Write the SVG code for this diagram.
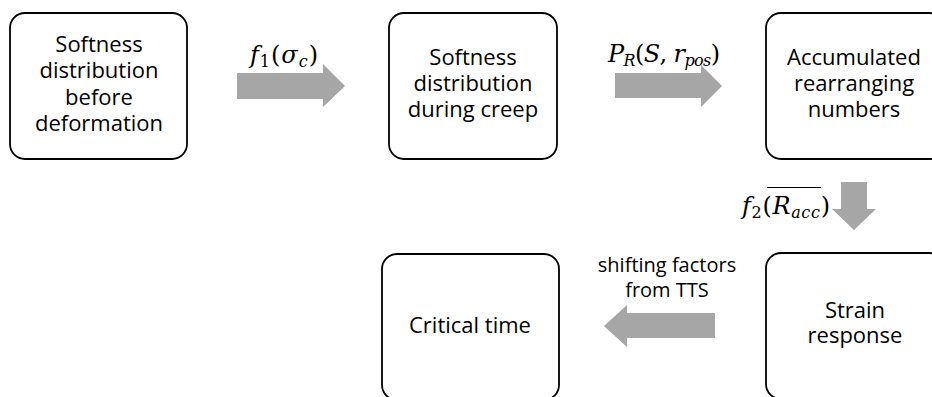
<svg xmlns="http://www.w3.org/2000/svg" width="932" height="397" viewBox="0 0 932 397">
<style>
.box{fill:#fff;stroke:#000;stroke-width:1.8}
.t{font-family:"Open Sans","Liberation Sans",sans-serif;font-size:22px;fill:#000;text-anchor:middle}
.lbl{font-family:"Open Sans","Liberation Sans",sans-serif;font-size:20px;fill:#000;text-anchor:middle}
.m{font-family:"DejaVu Serif","Liberation Serif",serif;font-size:24px;fill:#000}
.i{font-style:italic}
.s{font-size:16px}
.arr{fill:#a6a6a6}
</style>
<rect width="932" height="397" fill="#fff"/>
<g id="n1">
<rect class="box" x="10" y="13" width="177" height="146" rx="15"/>
<text class="t" x="99" y="52">Softness</text>
<text class="t" x="99" y="78">distribution</text>
<text class="t" x="99" y="105">before</text>
<text class="t" x="99" y="131">deformation</text>
</g>
<g id="n2">
<rect class="box" x="389" y="13" width="168" height="146" rx="15"/>
<text class="t" x="473" y="65">Softness</text>
<text class="t" x="473" y="91">distribution</text>
<text class="t" x="473" y="117">during creep</text>
</g>
<g id="n3">
<rect class="box" x="766" y="13" width="178" height="146" rx="15"/>
<text class="t" x="854" y="65">Accumulated</text>
<text class="t" x="854" y="91">rearranging</text>
<text class="t" x="854" y="117">numbers</text>
</g>
<g id="n4">
<rect class="box" x="766" y="253" width="178" height="146" rx="15"/>
<text class="t" x="855" y="318">Strain</text>
<text class="t" x="855" y="343">response</text>
</g>
<g id="n5">
<rect class="box" x="382" y="254" width="177" height="146" rx="15"/>
<text class="t" x="470" y="333">Critical time</text>
</g>
<g id="connectors">
<polygon class="arr" points="237,73 323,73 323,64 345,86 323,107 323,99 237,99"/>
<polygon class="arr" points="615,73 701,73 701,65 722,86 701,107 701,98 615,98"/>
<polygon class="arr" points="841,182 867,182 867,209 876,209 854,230 832,209 841,209"/>
<polygon class="arr" points="715,313 627,313 627,305 604,326 627,347 627,338 715,338"/>
<text class="m" x="250" y="63" textLength="68" lengthAdjust="spacing"><tspan class="i">f</tspan><tspan class="s" dy="4">1</tspan><tspan dy="-4">(</tspan><tspan class="i">σ</tspan><tspan class="i s" dy="4">c</tspan><tspan dy="-4">)</tspan></text>
<text class="m" x="608" y="62" textLength="112" lengthAdjust="spacing"><tspan class="i">P</tspan><tspan class="i s" dy="4">R</tspan><tspan dy="-4">(</tspan><tspan class="i">S</tspan><tspan>, </tspan><tspan class="i">r</tspan><tspan class="i s" dy="4">pos</tspan><tspan dy="-4">)</tspan></text>
<text class="m" x="742" y="214" textLength="88" lengthAdjust="spacing"><tspan class="i">f</tspan><tspan class="s" dy="4">2</tspan><tspan dy="-4">(</tspan><tspan class="i">R</tspan><tspan class="i s" dy="4">acc</tspan><tspan dy="-4">)</tspan></text>
<line x1="767" y1="187.5" x2="821" y2="187.5" stroke="#000" stroke-width="1.2"/>
<text class="lbl" x="667" y="272">shifting factors</text>
<text class="lbl" x="667" y="297">from TTS</text>
</g>
</svg>
